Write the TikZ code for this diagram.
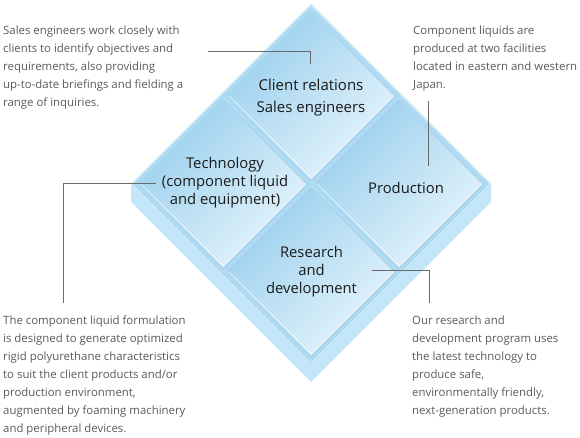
\documentclass[tikz,border=0pt]{standalone}
\usepackage{fontspec}
\setmainfont{Open Sans}
\definecolor{descgray}{HTML}{5A5A5A}
\definecolor{labblack}{HTML}{1A1A1A}
\definecolor{linegray}{HTML}{6A6A6A}
\definecolor{basecol}{HTML}{C3E6F9}
\definecolor{facecol}{HTML}{B0DAF1}
\definecolor{facerim}{HTML}{CFEBFA}
\definecolor{tiledark}{HTML}{9ACFEE}
\definecolor{tilelight}{HTML}{E6F4FB}
\definecolor{tileedge}{HTML}{A3D5F0}
\begin{document}
\begin{tikzpicture}[x=1pt,y=-1pt,
  desc/.style={align=left, anchor=north west, inner sep=0pt, text=descgray, font=\fontsize{11.4}{18}\selectfont},
  lab/.style={align=center, inner sep=0pt, text=labblack},
  conn/.style={draw=linegray, line width=0.9pt},
  tile/.style={top color=tiledark, bottom color=tilelight, shading angle=45, draw=tileedge, line width=0.8pt},
  hl/.style={draw=white, opacity=0.7, line width=0.8pt}]
\useasboundingbox (0,0) rectangle (580,438);
% base extrusion
\fill[basecol] (131,184) -- (311,364) -- (491,184) -- (491,202) -- (311,382) -- (131,202) -- cycle;
% top face
\fill[facecol] (311,4) -- (491,184) -- (311,364) -- (131,184) -- cycle;
\draw[facerim, line width=1pt] (311,5) -- (490,184) -- (311,363) -- (132,184) -- cycle;
% tiles
\shade[tile] (311,12) -- (395,96) -- (311,180) -- (227,96) -- cycle;
\shade[tile] (223,100) -- (307,184) -- (223,268) -- (139,184) -- cycle;
\shade[tile] (399,100) -- (483,184) -- (399,268) -- (315,184) -- cycle;
\shade[tile] (311,188) -- (395,272) -- (311,356) -- (227,272) -- cycle;
\draw[hl] (393,96) -- (311,178) -- (229,96);
\draw[hl] (305,184) -- (223,266) -- (141,184);
\draw[hl] (481,184) -- (399,266) -- (317,184);
\draw[hl] (393,272) -- (311,354) -- (229,272);
% labels
\node[lab, font=\fontsize{15}{22}\selectfont] (client) at (311,98) {Client relations\\Sales engineers};
\node[lab, font=\fontsize{14.8}{18}\selectfont] (tech) at (225,183) {Technology\\(component liquid\\and equipment)};
\node[lab, font=\fontsize{14.8}{18}\selectfont] (prod) at (406,188) {Production};
\node[lab, font=\fontsize{14.8}{18}\selectfont] (rnd) at (311.5,271.5) {Research\\and\\development};
% descriptions
\node[desc] (d1) at (3,25.5) {Sales engineers work closely with\\clients to identify objectives and\\requirements, also providing\\up-to-date briefings and fielding a\\range of inquiries.};
\node[desc] (d2) at (413,25.5) {Component liquids are\\produced at two facilities\\located in eastern and western\\Japan.};
\node[desc] (d3) at (3,315.5) {The component liquid formulation\\is designed to generate optimized\\rigid polyurethane characteristics\\to suit the client products and/or\\production environment,\\augmented by foaming machinery\\and peripheral devices.};
\node[desc] (d4) at (412,315.5) {Our research and\\development program uses\\the latest technology to\\produce safe,\\environmentally friendly,\\next-generation products.};
% connectors
\coordinate (k1s) at (208,51);
\coordinate (k1e) at (310.5,64);
\coordinate (k2s) at (428,101);
\coordinate (k2e) at (428,166);
\coordinate (k3s) at (156,183);
\coordinate (k3e) at (63,303);
\coordinate (k4s) at (372,270);
\coordinate (k4e) at (429,303);
\draw[conn] (k1s) -| (k1e);
\draw[conn] (k2s) -- (k2e);
\draw[conn] (k3s) -| (k3e);
\draw[conn] (k4s) -| (k4e);
\end{tikzpicture}
\end{document}
